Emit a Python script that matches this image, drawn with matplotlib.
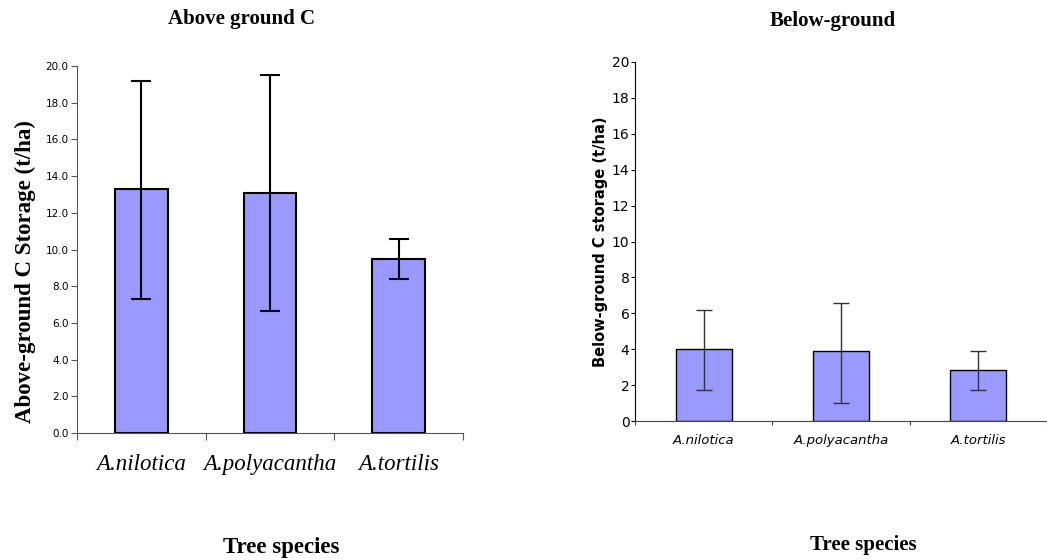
import numpy as np
import matplotlib.pyplot as plt
from matplotlib.ticker import FormatStrFormatter

soorten = ["A.nilotica", "A.polyacantha", "A.tortilis"]

# boven de grond (t/ha) met foutbalken
boven = [13.3, 13.08, 9.47]
boven_laag = [7.3, 6.65, 8.39]
boven_hoog = [19.18, 19.49, 10.57]

# onder de grond (t/ha)
onder = [4.0, 3.9, 2.85]
onder_laag = [1.7, 1.0, 1.7]
onder_hoog = [6.2, 6.6, 3.9]

balk_kleur = "#9999ff"
serif = "Liberation Serif"
sans = "DejaVu Sans"

fig = plt.figure(figsize=(10.47, 5.6), dpi=100)
x = np.arange(len(soorten))

# linker grafiek
ax1 = fig.add_axes([0.0735, 0.2268, 0.3687, 0.6553])
fout1 = [np.array(boven) - np.array(boven_laag), np.array(boven_hoog) - np.array(boven)]
ax1.bar(x, boven, width=0.41, color=balk_kleur, edgecolor="black", linewidth=1.5)
ax1.errorbar(x, boven, yerr=fout1, fmt="none", ecolor="black", elinewidth=1.5,
             capsize=7, capthick=1.5)
ax1.set_xlim(-0.5, 2.5)
ax1.set_ylim(0, 20)
ax1.set_yticks(np.arange(0, 21, 2))
ax1.yaxis.set_major_formatter(FormatStrFormatter("%.1f"))
ax1.set_xticks([-0.5, 0.5, 1.5, 2.5])
ax1.set_xticklabels([])
ax1.set_xticks(x, minor=True)
ax1.set_xticklabels(soorten, minor=True, family=serif, style="italic", fontsize=16.5)
ax1.tick_params(axis="x", which="minor", length=0, pad=15)
ax1.tick_params(axis="x", which="major", length=5, color="#555555")
ax1.tick_params(axis="y", labelsize=7.5, length=4, color="#555555", pad=2)
for t in ax1.get_yticklabels():
    t.set_family(sans)
for s in ["top", "right"]:
    ax1.spines[s].set_visible(False)
for s in ["left", "bottom"]:
    ax1.spines[s].set_color("#555555")
ax1.set_ylabel("Above-ground C Storage (t/ha)", family=serif, fontweight="bold",
               fontsize=16.5, labelpad=7)
ax1.yaxis.label.set_y(0.44)
fig.text(0.231, 0.966, "Above ground C", family=serif, fontweight="bold",
         fontsize=15, ha="center", va="center")
fig.text(0.269, 0.023, "Tree species", family=serif, fontweight="bold",
         fontsize=16.5, ha="center", va="center")

# rechter grafiek
ax2 = fig.add_axes([0.6065, 0.2482, 0.3935, 0.6411])
fout2 = [np.array(onder) - np.array(onder_laag), np.array(onder_hoog) - np.array(onder)]
ax2.bar(x, onder, width=0.41, color=balk_kleur, edgecolor="black", linewidth=1)
ax2.errorbar(x, onder, yerr=fout2, fmt="none", ecolor="#333333", elinewidth=1,
             capsize=6, capthick=1)
ax2.set_xlim(-0.5, 2.5)
ax2.set_ylim(0, 20)
ax2.set_yticks(np.arange(0, 21, 2))
ax2.set_xticks([-0.5, 0.5, 1.5, 2.5])
ax2.set_xticklabels([])
ax2.set_xticks(x, minor=True)
ax2.set_xticklabels(soorten, minor=True, family=sans, style="italic", fontsize=9.5)
ax2.tick_params(axis="x", which="minor", length=0, pad=9)
ax2.tick_params(axis="x", which="major", length=3, color="#444444")
ax2.tick_params(axis="y", labelsize=10, length=3, pad=1)
for s in ["top", "right"]:
    ax2.spines[s].set_visible(False)
ax2.spines["bottom"].set_color("#444444")
ax2.set_ylabel("Below-ground C storage (t/ha)", family=sans, fontweight="bold",
               fontsize=10.5, labelpad=3)
fig.text(0.795, 0.962, "Below-ground", family=serif, fontweight="bold",
         fontsize=15, ha="center", va="center")
fig.text(0.825, 0.026, "Tree species", family=serif, fontweight="bold",
         fontsize=15, ha="center", va="center")

fig.savefig("out.png", dpi=100)
